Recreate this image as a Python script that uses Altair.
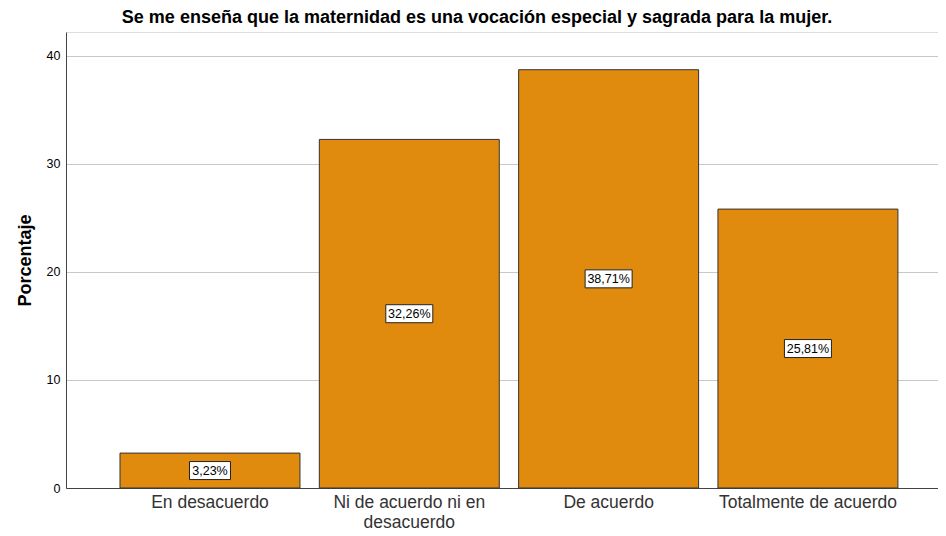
import altair as alt
import pandas as pd

categories = ["En desacuerdo", "Ni de acuerdo ni en desacuerdo", "De acuerdo", "Totalmente de acuerdo"]
values = [3.23, 32.26, 38.71, 25.81]
labels = ["3,23%", "32,26%", "38,71%", "25,81%"]

df = pd.DataFrame({"cat": categories, "val": values, "label": labels})
df["mid"] = df["val"] / 2
df["n"] = df["label"].str.len()

FONT = "Liberation Sans"

x = alt.X(
    "cat:N",
    sort=categories,
    scale=alt.Scale(paddingInner=0.097, paddingOuter=0.236, align=0.574),
    axis=alt.Axis(
        title=None, labelAngle=0, labelFontSize=17.5, labelColor="#333",
        ticks=False, domainColor="#444", domainWidth=1, labelPadding=5,
        labelFont=FONT, labelLineHeight=20,
        labelExpr="datum.label == 'Ni de acuerdo ni en desacuerdo' ? ['Ni de acuerdo ni en', 'desacuerdo'] : datum.label",
    ),
)

yscale = alt.Scale(domain=[0, 42.2], nice=False)

bars = alt.Chart(df).mark_bar(color="#E08A0E", stroke="#333333", strokeWidth=1).encode(
    x=x,
    y=alt.Y(
        "val:Q", scale=yscale,
        axis=alt.Axis(
            title="Porcentaje", titleFontSize=18, titleFontWeight="bold", titleColor="black",
            titleFont=FONT, labelFont=FONT, labelFontSize=12.5, labelColor="black",
            ticks=False, values=[0, 10, 20, 30, 40], gridColor="#c8c8c8",
            domainColor="#444", labelPadding=6, titlePadding=12,
        ),
    ),
)

def box(nchar, w):
    return alt.Chart(df).transform_filter(f"datum.n == {nchar}").mark_bar(
        width=w, color="white", stroke="#222", strokeWidth=1, yOffset=-9, y2Offset=9
    ).encode(x=alt.X("cat:N", sort=categories), y=alt.Y("mid:Q", scale=yscale), y2="mid:Q")

text = alt.Chart(df).mark_text(font=FONT, fontSize=12.5, color="black", baseline="middle").encode(
    x=alt.X("cat:N", sort=categories), y=alt.Y("mid:Q", scale=yscale), text="label:N"
)

chart = alt.layer(bars, box(5, 41), box(6, 47), text).properties(
    width=872,
    height=456,
    autosize=alt.AutoSizeParams(type="none"),
    padding={"left": 58, "top": 24, "right": 0, "bottom": 48},
    title=alt.TitleParams(
        "Se me enseña que la maternidad es una vocación especial y sagrada para la mujer.",
        fontSize=18, fontWeight="bold", color="black", font=FONT, anchor="middle", dx=-25, offset=5,
    ),
).configure_view(stroke=None).configure(background="white")

chart.save("out.html", embed_options={"renderer": "svg", "actions": False})
